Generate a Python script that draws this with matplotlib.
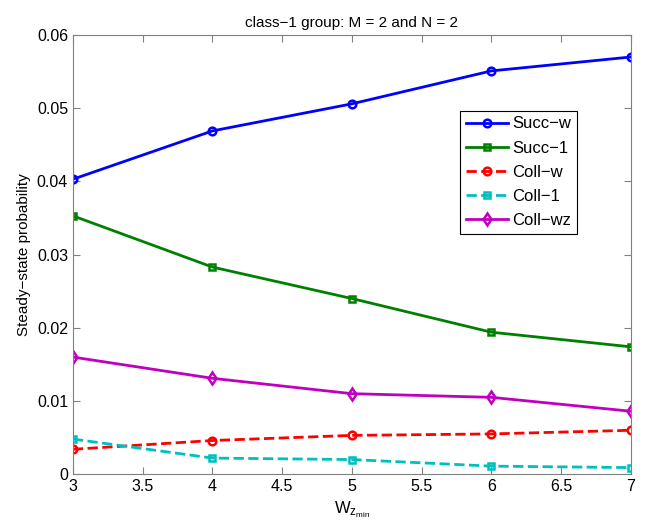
import matplotlib.pyplot as plt

plt.rcParams['font.family'] = ['Liberation Sans', 'DejaVu Sans']

# Значення по осі x (W_z_min) та серії ймовірностей.
wzMin = [3, 4, 5, 6, 7]
succW = [0.0403, 0.0469, 0.0506, 0.0551, 0.0570]
succ1 = [0.0353, 0.0283, 0.0240, 0.0194, 0.0174]
collW = [0.0034, 0.0046, 0.0053, 0.0055, 0.0060]
coll1 = [0.0048, 0.0022, 0.0020, 0.0011, 0.0009]
collWz = [0.0160, 0.0131, 0.0110, 0.0105, 0.0086]
xTicks = [3, 3.5, 4, 4.5, 5, 5.5, 6, 6.5, 7]
yTicks = [0, 0.01, 0.02, 0.03, 0.04, 0.05, 0.06]
yTickLabels = ['0', '0.01', '0.02', '0.03', '0.04', '0.05', '0.06']

fig = plt.figure(figsize=(6.45, 5.31), dpi=100)
ax = fig.add_axes([0.113, 0.107, 0.865, 0.827])

ax.plot(wzMin, succW, '-o', color='#0000ff', lw=2, ms=5.5, mfc='none', mew=1.8, label='Succ\u2212w')
ax.plot(wzMin, succ1, '-s', color='#008000', lw=2, ms=4.5, mfc='none', mew=1.8, label='Succ\u22121')
ax.plot(wzMin, collW, '--o', color='#ff0000', lw=2, ms=5.5, mfc='none', mew=1.8, label='Coll\u2212w')
ax.plot(wzMin, coll1, '--s', color='#00bfbf', lw=2, ms=4.5, mfc='none', mew=1.8, label='Coll\u22121')
ax.plot(wzMin, collWz, '-d', color='#bf00bf', lw=2, ms=6, mfc='none', mew=1.8, label='Coll\u2212wz')

ax.set_xlim(3, 7)
ax.set_ylim(0, 0.06)
ax.set_xticks(xTicks)
ax.set_xticklabels(['3', '3.5', '4', '4.5', '5', '5.5', '6', '6.5', '7'])
ax.set_yticks(yTicks)
ax.set_yticklabels(yTickLabels)
ax.tick_params(direction='in', top=True, right=True, labelsize=11.5, length=5, color='#808080')
for s in ax.spines.values():
    s.set_color('#808080')

ax.set_title('class\u22121 group: M = 2 and N = 2', fontsize=11)
ax.set_xlabel(r'$\mathregular{W_{z_{min}}}$', fontsize=12)
ax.set_ylabel('Steady\u2212state probability', fontsize=11)

leg = ax.legend(loc='upper left', bbox_to_anchor=(0.694, 0.828), fontsize=12,
                fancybox=False, framealpha=1, edgecolor='black', handlelength=2.5,
                borderpad=0.35, labelspacing=0.55, handletextpad=0.3, borderaxespad=0)
leg.get_frame().set_linewidth(0.8)

fig.savefig('out.png', dpi=100)
